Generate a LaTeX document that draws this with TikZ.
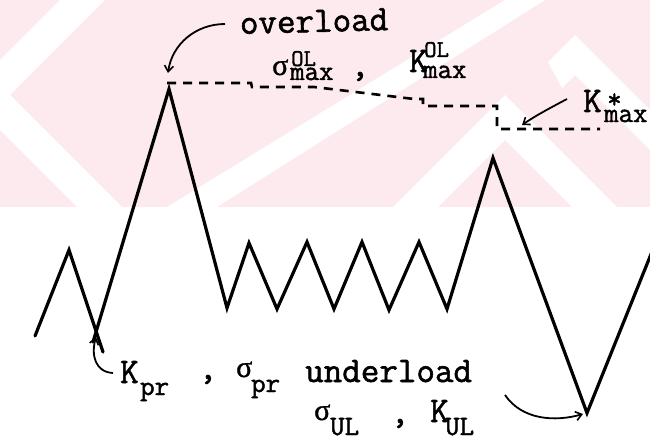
\documentclass[tikz,border=0pt]{standalone}
\usepackage{fontspec}
\usetikzlibrary{arrows.meta}
\newfontfamily\tw[FakeBold=1.6]{Latin Modern Mono}
\newfontfamily\gk[FakeBold=1.2]{Liberation Serif}
\definecolor{wmpink}{RGB}{253,234,238}
\newcommand\supsize{\fontsize{24}{14}\selectfont}
\tikzset{
  curve/.style={line width=3.2pt, line join=miter, line cap=round},
  guide/.style={line width=2.6pt, dash pattern=on 9pt off 7pt},
  pointer/.style={line width=1.8pt, -{Straight Barb[length=6pt,width=9pt,line width=1.6pt]}},
  bigtxt/.style={inner sep=0pt, font=\tw\fontsize{36}{40}\selectfont},
  smalltxt/.style={inner sep=0pt, font=\tw\fontsize{28}{32}\selectfont},
  % superscript over subscript, placed by the subscript baseline
  scripts/.style={inner sep=0pt, align=left, anchor=base west,
    font=\tw\fontsize{28}{14}\selectfont},
  greek/.style={inner sep=0pt, font=\gk\fontsize{30}{34}\selectfont},
}
\begin{document}
\begin{tikzpicture}[x=1pt, y=-1pt]
\useasboundingbox (0,0) rectangle (650,441);
\clip (0,0) rectangle (650,441);

% pale watermark band with white chevron stripes
\fill[wmpink] (0,0) rectangle (650,207);
\fill[white] (167,207) -- (217,207) -- (545,0) -- (505,0) -- cycle;
\fill[white] (60,0) -- (105,0) -- (10,95) -- (122,207) -- (77,207) -- (-35,95) -- cycle;
\fill[white] (393,207) -- (505,95) -- (617,207) -- (572,207) -- (505,140) -- (438,207) -- cycle;
\fill[white] (548,62) -- (575,35) -- (650,110) -- (650,150) -- (575,75) -- (562,88) -- cycle;

% load history vertices
\coordinate (s0) at (35,336);
\coordinate (p1) at (69,250);
\coordinate (v1) at (103,352);
\coordinate (b1) at (93,342);
\coordinate (ol) at (169,89);
\coordinate (v2) at (227,308);
\coordinate (p2) at (249,243);
\coordinate (v3) at (277,309);
\coordinate (p3) at (307,242);
\coordinate (v4) at (334,309);
\coordinate (p4) at (362,242);
\coordinate (v5) at (389,310);
\coordinate (p5) at (419,242);
\coordinate (v6) at (447,309);
\coordinate (pk) at (493,158);
\coordinate (ul) at (587,413);
\coordinate (e1) at (670,207);

\draw[curve] (s0) -- (p1) -- (v1);
\draw[curve] (b1) -- (ol) -- (v2) -- (p2) -- (v3) -- (p3) -- (v4) -- (p4)
  -- (v5) -- (p5) -- (v6) -- (pk) -- (ul) -- (e1);

% dashed level lines
\coordinate (d0) at (167,83);
\coordinate (d9) at (600,129);
\draw[guide] (d0) -- (251,83) -- (252,87) -- (314,87) -- (414,99)
  -- (423,99) -- (423,106) -- (497,106) -- (497,129) -- (d9);

% labels
\node[bigtxt, anchor=base west, rotate=1.5] (tov) at (240,34) {overload};
\node[greek, anchor=base west] (tsol) at (272,75) {σ};
\node[scripts] (tsolsc) at (290,80) {\hspace*{1pt}{\supsize OL}\\max};
\node[bigtxt, anchor=base] (tc1) at (360,76) {,};
\node[bigtxt, anchor=base west] (tkol) at (409,72) {K};
\node[scripts, font=\tw\fontsize{28}{21}\selectfont] (tkolsc) at (423,78) {\hspace*{1pt}{\supsize OL}\\max};
\node[bigtxt, anchor=base west] (tks) at (583,112) {K};
\node[scripts] (tkssc) at (604,122) {\hspace*{3pt}*\\max};

\node[bigtxt, anchor=base west] (tkpr) at (120,383) {K};
\node[smalltxt, anchor=base west] (tkprsub) at (140,395) {pr};
\node[bigtxt, anchor=base] (tc2) at (208,379) {,};
\node[greek, anchor=base west] (tspr) at (236,377) {σ};
\node[smalltxt, anchor=base west] (tsprsub) at (251,392) {pr};
\node[bigtxt, anchor=base west] (tun) at (305,382) {underload};
\node[greek, anchor=base west] (tsul) at (314,420) {σ};
\node[smalltxt, anchor=base west] (tsulsub) at (330,435) {UL};
\node[bigtxt, anchor=base] (tc3) at (400,423) {,};
\node[bigtxt, anchor=base west] (tkul) at (430,422) {K};
\node[smalltxt, anchor=base west] (tkulsub) at (445,435) {UL};

% pointers from the labels to the marked points
\coordinate (aol0) at (225,24);
\coordinate (aol) at (168,73);
\coordinate (apr0) at (113,373);
\coordinate (apr) at (96,337);
\coordinate (aks0) at (567,99);
\coordinate (aks) at (522,125);
\coordinate (aul0) at (505,395);
\coordinate (aul) at (583,414);
\draw[pointer] (aol0) .. controls (196,24) and (172,44) .. (aol);
\draw[pointer] (apr0) .. controls (95,372) and (91,355) .. (apr);
\draw[pointer] (aks0) .. controls (550,108) and (535,116) .. (aks);
\draw[pointer] (aul0) .. controls (522,420) and (555,422) .. (aul);
\end{tikzpicture}
\end{document}
